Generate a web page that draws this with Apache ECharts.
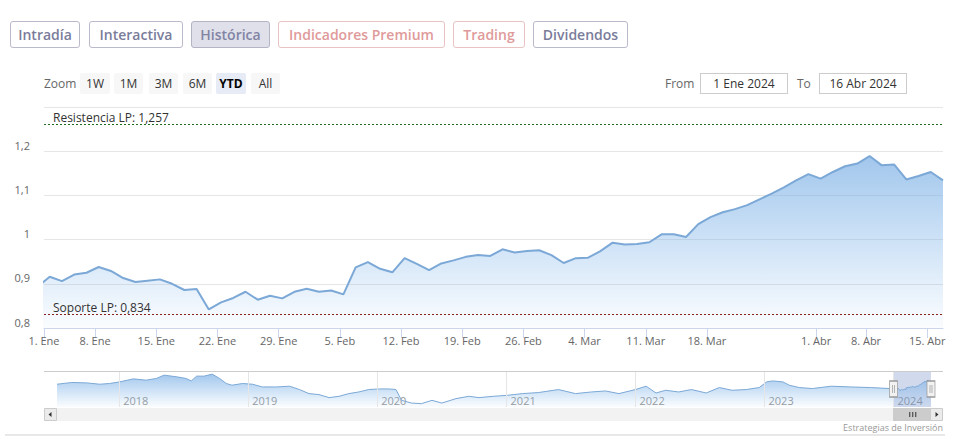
<!DOCTYPE html>
<html>
<head>
<meta charset="utf-8">
<script src="https://cdn.jsdelivr.net/npm/echarts@6/dist/echarts.min.js"></script>
<style>
html,body{margin:0;padding:0;background:#fff;width:960px;height:442px;overflow:hidden;font-family:"Open Sans",sans-serif;}
#chart{position:absolute;left:0;top:0;width:960px;height:442px;}
.ui{position:absolute;box-sizing:border-box;white-space:nowrap;z-index:2;}
.tab{top:21px;height:27px;line-height:25px;border:1px solid #b9bacb;border-radius:3px;font-weight:600;font-size:14px;text-align:center;color:#7a7c9b;background:#fff;}
.tab.sel{background:#dfe0ea;border-color:#b3b4c6;color:#8284a4;}
.tab.pink{color:#e09a9a;border-color:#e9c2c2;}
.zl{top:75px;height:18px;line-height:18px;font-size:12px;color:#666;}
.zb{top:73px;height:21px;line-height:21px;font-size:12px;color:#333;background:#f7f7f7;text-align:center;border-radius:2px;}
.zb.sel{background:#e6ebf5;font-weight:700;color:#000;}
.box{top:73px;height:21px;line-height:19px;font-size:12px;color:#333;border:1px solid #cccccc;text-align:center;background:#fff;}
</style>
</head>
<body>
<div id="chart"></div>
<div class="ui tab" style="left:10px;width:70px">Intradía</div>
<div class="ui tab" style="left:89px;width:94px">Interactiva</div>
<div class="ui tab sel" style="left:191px;width:79px">Histórica</div>
<div class="ui tab pink" style="left:278px;width:167px">Indicadores Premium</div>
<div class="ui tab pink" style="left:453px;width:72px">Trading</div>
<div class="ui tab" style="left:533px;width:95px">Dividendos</div>

<div class="ui zl" style="left:44px">Zoom</div>
<div class="ui zb" style="left:80px;width:30px">1W</div>
<div class="ui zb" style="left:114px;width:29px">1M</div>
<div class="ui zb" style="left:149px;width:29px">3M</div>
<div class="ui zb" style="left:183px;width:29px">6M</div>
<div class="ui zb sel" style="left:216px;width:30px">YTD</div>
<div class="ui zb" style="left:251px;width:29px">All</div>

<div class="ui zl" style="left:665px">From</div>
<div class="ui box" style="left:700px;width:88px">1 Ene 2024</div>
<div class="ui zl" style="left:797px">To</div>
<div class="ui box" style="left:819px;width:88px">16 Abr 2024</div>

<script>
// ---------------- DATA ----------------
const tradingStart = '2023-12-29';
const tradingEnd = '2024-04-16';
const holidays = ['2024-01-01', '2024-03-29', '2024-04-01'];
// closing values, one per trading day from 29 Dic 2023 to 16 Abr 2024
const closes = [
  0.893,
  0.916, 0.906, 0.921, 0.925,
  0.938, 0.929, 0.913, 0.904, 0.907,
  0.910, 0.900, 0.886, 0.888, 0.842,
  0.858, 0.868, 0.882, 0.864, 0.873,
  0.867, 0.882, 0.889, 0.882, 0.885,
  0.876, 0.937, 0.949, 0.934, 0.926,
  0.958, 0.945, 0.931, 0.946, 0.953,
  0.961, 0.965, 0.963, 0.978, 0.971,
  0.974, 0.976, 0.965, 0.947, 0.958,
  0.959, 0.974, 0.993, 0.989, 0.990,
  0.994, 1.012, 1.012, 1.006, 1.035,
  1.051, 1.062, 1.069, 1.078, 1.091,
  1.104, 1.118, 1.134, 1.148,
  1.138, 1.153, 1.166, 1.172,
  1.189, 1.168, 1.170, 1.136, 1.144,
  1.153, 1.134
];
const rangeStart = '2024-01-01';
const tickDates = ['2024-01-01','2024-01-08','2024-01-15','2024-01-22','2024-01-29','2024-02-05',
  '2024-02-12','2024-02-19','2024-02-26','2024-03-04','2024-03-11','2024-03-18',
  '2024-04-01','2024-04-08','2024-04-15'];
const monthNames = ['Ene','Feb','Mar','Abr','May','Jun','Jul','Ago','Sep','Oct','Nov','Dic'];
const resistance = 1.257;
const support = 0.834;
// navigator history (long term)
const histDates = ['2017-07-09','2017-08-20','2017-10-01','2017-11-07','2017-12-05',
  '2018-01-02','2018-02-10','2018-03-18','2018-04-16','2018-05-08','2018-06-13','2018-07-09','2018-07-24','2018-08-08','2018-08-29','2018-09-21','2018-10-12','2018-10-31','2018-11-16','2018-12-16',
  '2019-01-13','2019-02-10','2019-03-22','2019-04-28','2019-05-26','2019-06-22','2019-07-20','2019-08-18','2019-09-15','2019-10-13','2019-11-10','2019-12-08',
  '2020-01-07','2020-02-04','2020-02-23','2020-03-10','2020-04-07','2020-05-05','2020-06-04','2020-07-02','2020-08-11','2020-09-16','2020-10-15','2020-11-24',
  '2021-01-04','2021-02-15','2021-04-01','2021-05-28','2021-07-15','2021-08-29','2021-10-08','2021-11-15',
  '2022-01-01','2022-01-31','2022-02-28','2022-03-27','2022-05-03','2022-06-08','2022-07-20','2022-08-26','2022-10-01','2022-11-10','2022-12-17',
  '2023-01-07','2023-01-24','2023-02-22','2023-03-12','2023-04-09','2023-05-16','2023-07-09','2023-09-02','2023-10-28','2023-12-20'];
const histValues = [1.053,1.110,1.097,1.053,1.077,
  1.130,1.230,1.187,1.243,1.353,1.297,1.243,1.163,1.320,1.320,1.387,1.243,1.077,1.020,1.077,
  1.053,0.963,0.963,0.987,0.877,0.743,0.710,0.610,0.653,0.743,0.797,0.877,
  0.897,0.897,0.877,0.520,0.430,0.410,0.520,0.430,0.577,0.653,0.610,0.653,
  0.687,0.743,0.777,0.877,0.743,0.797,0.830,0.743,
  0.877,0.987,0.763,0.853,0.797,0.877,0.763,0.943,0.853,0.877,0.943,
  1.130,1.163,1.130,1.020,0.943,0.910,0.987,0.963,0.943,0.910];
const navStart = '2017-07-09';
const navYears = [2018, 2019, 2020, 2021, 2022, 2023, 2024];
const creditText = 'Estrategias de Inversión';

// ---------------- BUILD ----------------
const DAY = 864e5, HOUR = 36e5;
function parseUTC(s){ const p = s.split('-').map(Number); return Date.UTC(p[0], p[1]-1, p[2]); }
function isoUTC(t){ return new Date(t).toISOString().slice(0,10); }
const days = [];
for (let t = parseUTC(tradingStart); t <= parseUTC(tradingEnd); t += DAY) {
  const wd = new Date(t).getUTCDay(); const s = isoUTC(t);
  if (wd === 0 || wd === 6 || holidays.indexOf(s) >= 0) continue;
  days.push(s);
}
// ordinal (trading-day) positions; first day (29 Dic) sits at -1
const ptTime = days.map(d => parseUTC(d) + 21*HOUR);
function ordinal(t){
  for (let k = 0; k < ptTime.length-1; k++) {
    if (t >= ptTime[k] && t <= ptTime[k+1]) return (k-1) + (t-ptTime[k])/(ptTime[k+1]-ptTime[k]);
  }
  return ptTime.length-2;
}
const xMin = ordinal(parseUTC(rangeStart));
const xMax = days.length - 2;
const tickPos = tickDates.map(d => Math.max(xMin, ordinal(parseUTC(d))));
const tickText = tickDates.map(d => { const p = d.split('-').map(Number); return p[2] + '. ' + monthNames[p[1]-1]; });
const mainData = closes.map((v, k) => [k-1, v]);
// navigator uses a numeric (timestamp) axis
const navData = histDates.map((d, i) => [parseUTC(d), histValues[i]]).concat(days.map((d, i) => [parseUTC(d), closes[i]]));
const yearTs = navYears.map(y => Date.UTC(y, 0, 1));
const navMin = 0.3, navMax = 1.49;
const selA = parseUTC(rangeStart), selB = parseUTC(tradingEnd);

const FONT = '"Open Sans", sans-serif';
const grad = () => new echarts.graphic.LinearGradient(0,0,0,1,[
  {offset:0, color:'rgba(122,174,228,1)'},
  {offset:1, color:'rgba(124,181,236,0.05)'}]);

const chart = echarts.init(document.getElementById('chart'), null, {renderer:'svg'});
const option = {
  animation: false,
  textStyle: {fontFamily: FONT},
  grid: [
    {left:44, top:107, width:899, height:221},
    {left:57, top:371, width:874, height:36}
  ],
  xAxis: [
    {type:'value', gridIndex:0, min:xMin, max:xMax,
     axisLine:{show:true, onZero:false, lineStyle:{color:'#ccd6eb'}},
     axisTick:{show:true, customValues:tickPos, length:10, lineStyle:{color:'#ccd6eb'}},
     axisLabel:{customValues:tickPos, color:'#666', fontSize:11, fontFamily:FONT, margin:7,
       formatter: v => { let b = 0; for (let i=1;i<tickPos.length;i++) if (Math.abs(tickPos[i]-v) < Math.abs(tickPos[b]-v)) b = i; return tickText[b]; }},
     splitLine:{show:false}},
    {type:'value', gridIndex:1, min:parseUTC(navStart), max:selB,
     axisLine:{show:false, onZero:false}, axisTick:{show:false}, splitLine:{show:false},
     axisLabel:{customValues:yearTs, inside:true, align:'left', padding:[0,0,0,4], margin:1,
       color:'#999', fontSize:11, fontFamily:FONT, formatter: v => String(new Date(v).getUTCFullYear())}}
  ],
  yAxis: [
    {type:'value', gridIndex:0, min:0.8, max:1.3, interval:0.1,
     axisLine:{show:false}, axisTick:{show:false},
     axisLabel:{color:'#666', fontSize:11, fontFamily:FONT, margin:14, verticalAlign:'bottom', lineHeight:12,
       formatter: v => Math.abs(v-1.3) < 1e-6 ? '' : String(+v.toFixed(1)).replace('.', ',')},
     splitLine:{lineStyle:{color:'#e6e6e6'}}},
    {type:'value', gridIndex:1, min:navMin, max:navMax, show:false, splitLine:{show:false}}
  ],
  series: [
    {type:'line', xAxisIndex:0, yAxisIndex:0, data:mainData, symbol:'none', clip:true,
     lineStyle:{color:'#7ba8d6', width:2}, areaStyle:{color:grad()},
     markLine:{silent:true, symbol:'none', animation:false,
       label:{show:true, position:'insideStartTop', formatter:'{b}', color:'#333', fontSize:12, fontFamily:FONT, distance:[9,1]},
       data:[
         {name:'Resistencia LP: ' + String(resistance).replace('.', ','), yAxis:resistance, lineStyle:{color:'#1f6b1f', type:[2,2], width:1}},
         {name:'Soporte LP: ' + String(support).replace('.', ','), yAxis:support, lineStyle:{color:'#8b2020', type:[2,2], width:1}}
       ]}},
    {type:'line', xAxisIndex:1, yAxisIndex:1, data:navData, symbol:'none', clip:true,
     lineStyle:{color:'#7ba8d6', width:1}, areaStyle:{color:grad()},
     markArea:{silent:true, itemStyle:{color:'rgba(102,133,194,0.3)'}, data:[[{xAxis:selA},{xAxis:selB}]]},
     markLine:{silent:true, symbol:'none', label:{show:false}, lineStyle:{color:'#e6e6e6', type:'solid', width:1},
       data: yearTs.map(t => ({xAxis:t}))},
     markPoint:{silent:true, symbol:'path://M0,0H8V16H0Z M3,4V12 M5,4V12', symbolSize:[8,16],
       itemStyle:{color:'#f2f2f2', borderColor:'#999', borderWidth:1}, label:{show:false},
       data:[{coord:[selA,(navMin+navMax)/2]},{coord:[selB,(navMin+navMax)/2]}]}}
  ]
};
chart.setOption(option);

const x0 = chart.convertToPixel({xAxisIndex:1}, selA);
const x1 = chart.convertToPixel({xAxisIndex:1}, selB);
const tc = (x0 + x1) / 2;
chart.setOption({graphic:[
  {type:'line', shape:{x1:44, y1:371.5, x2:943, y2:371.5}, style:{stroke:'#cccccc', lineWidth:1}, z:10},
  {type:'rect', shape:{x:44, y:408, width:899, height:13}, style:{fill:'#f2f2f2'}, z:10},
  {type:'rect', shape:{x:x0, y:408.5, width:x1-x0, height:12}, style:{fill:'#cccccc', stroke:'#cccccc'}, z:11},
  {type:'line', shape:{x1:tc-2.5, y1:412, x2:tc-2.5, y2:417}, style:{stroke:'#333', lineWidth:1}, z:12},
  {type:'line', shape:{x1:tc+0.5, y1:412, x2:tc+0.5, y2:417}, style:{stroke:'#333', lineWidth:1}, z:12},
  {type:'line', shape:{x1:tc+3.5, y1:412, x2:tc+3.5, y2:417}, style:{stroke:'#333', lineWidth:1}, z:12},
  {type:'rect', shape:{x:44.5, y:408.5, width:12, height:12}, style:{fill:'#ebebeb', stroke:'#cccccc'}, z:11},
  {type:'polygon', shape:{points:[[48.5,414.5],[51.5,412],[51.5,417]]}, style:{fill:'#333'}, z:12},
  {type:'rect', shape:{x:930.5, y:408.5, width:12, height:12}, style:{fill:'#ebebeb', stroke:'#cccccc'}, z:11},
  {type:'polygon', shape:{points:[[938.5,414.5],[935.5,412],[935.5,417]]}, style:{fill:'#333'}, z:12},
  {type:'text', style:{x:943, y:427, text:creditText, fill:'#999', font:'9px "Open Sans", sans-serif', align:'right', verticalAlign:'middle'}, z:12},
  {type:'rect', shape:{x:5, y:434, width:940, height:2}, style:{fill:'#e8e8e8'}, z:10}
]});
</script>
</body>
</html>
